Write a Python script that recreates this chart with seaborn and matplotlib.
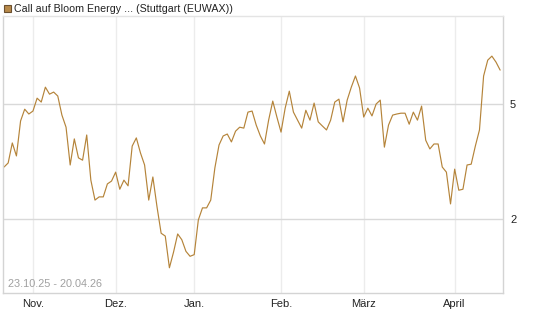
import numpy as np
import pandas as pd
import matplotlib
matplotlib.use('Agg')
import matplotlib.pyplot as plt
import matplotlib.ticker as mticker
import seaborn as sns

# trading days 23.10.25 - 20.04.26 (EUWAX, holidays removed)
holidays = ['2025-12-24', '2025-12-25', '2025-12-26', '2025-12-31',
            '2026-01-01', '2026-04-03', '2026-04-06']
days = pd.bdate_range('2025-10-23', '2026-04-20')
days = days[~days.isin(pd.to_datetime(holidays))]

prices = [3.03, 3.13, 3.67, 3.31, 4.37, 4.80, 4.62, 4.73, 5.24, 5.08,
          5.72, 5.41, 5.50, 5.33, 4.58, 4.16, 3.08, 3.79, 3.26, 3.20,
          3.91, 2.73, 2.33, 2.39, 2.39, 2.65, 2.71, 2.91, 2.54, 2.73,
          2.61, 3.58, 3.82, 3.39, 3.08, 2.33, 2.80, 2.21, 1.79, 1.75,
          1.36, 1.54, 1.78, 1.70, 1.55, 1.49, 1.51, 1.99, 2.19, 2.19,
          2.33, 3.01, 3.61, 3.88, 3.94, 3.70, 4.03, 4.16, 4.13, 4.69,
          4.73, 4.23, 3.88, 3.64, 4.40, 5.12, 4.51, 4.00, 4.84, 5.54,
          4.69, 4.40, 4.13, 4.76, 4.40, 5.04, 4.34, 4.20, 4.07, 4.40,
          5.08, 5.20, 4.34, 5.16, 5.72, 6.25, 5.68, 4.51, 4.84, 4.55,
          5.00, 5.16, 3.55, 4.23, 4.58, 4.62, 4.65, 4.65, 4.26, 4.69,
          4.40, 4.92, 3.75, 3.50, 3.64, 3.64, 3.03, 2.91, 2.26, 2.98,
          2.52, 2.54, 3.08, 3.10, 3.58, 4.07, 6.25, 7.09, 7.32, 6.98,
          6.55]

month_labels = ['Nov.', 'Dez.', 'Jan.', 'Feb.', 'März', 'April']
y_ticks = [2, 5]

df = pd.DataFrame({'day': days, 'price': prices})
df['idx'] = np.arange(len(df))

# first trading day of each month -> tick position
firsts = df.groupby(df['day'].dt.to_period('M'))['idx'].min().iloc[1:].values

sns.set_style('white')
plt.rcParams['font.family'] = ['Liberation Sans', 'DejaVu Sans']

fig = plt.figure(figsize=(5.45, 3.27), dpi=100)
ax = fig.add_axes([0.0055, 0.104, 0.9175, 0.847])

sns.lineplot(data=df, x='idx', y='price', ax=ax, color='#b5843a', linewidth=0.85)

ax.set_yscale('log')
ax.set_ylim(1.113, 10.07)
ax.set_xlim(-0.25, 120.7)

ax.yaxis.set_major_locator(mticker.FixedLocator(y_ticks))
ax.yaxis.set_minor_locator(mticker.NullLocator())
ax.yaxis.set_major_formatter(mticker.FixedFormatter([str(t) for t in y_ticks]))
ax.yaxis.tick_right()
ax.set_xticks(firsts)
ax.set_xticklabels(month_labels)

ax.grid(axis='y', color='#d9d9d9', linewidth=1.0)
ax.grid(axis='x', color='#ececec', linewidth=1.0)
ax.tick_params(axis='both', length=0, labelsize=8, colors='#222222')
ax.tick_params(axis='x', pad=4)
ax.tick_params(axis='y', pad=5)
for s in ax.spines.values():
    s.set_color('#d4d4d4')
    s.set_linewidth(1.0)
ax.spines['top'].set_color('#e4e4e4')
ax.set_xlabel('')
ax.set_ylabel('')

ax.text(0.01, 0.015, '23.10.25 - 20.04.26', transform=ax.transAxes,
        fontsize=7.8, color='#a0a0a0', ha='left', va='bottom')

# legend marker + title
fig.patches.append(plt.Rectangle((4 / 545, 1 - 12 / 327), 7 / 545, 7 / 327,
                                 transform=fig.transFigure, facecolor='#b88a4a',
                                 edgecolor='#6b5030', linewidth=0.8))
fig.text(14 / 545, 1 - 8.5 / 327, 'Call auf Bloom Energy ... (Stuttgart (EUWAX))',
         fontsize=7.7, color='#222222', ha='left', va='center')

fig.savefig('out.png', dpi=100)
